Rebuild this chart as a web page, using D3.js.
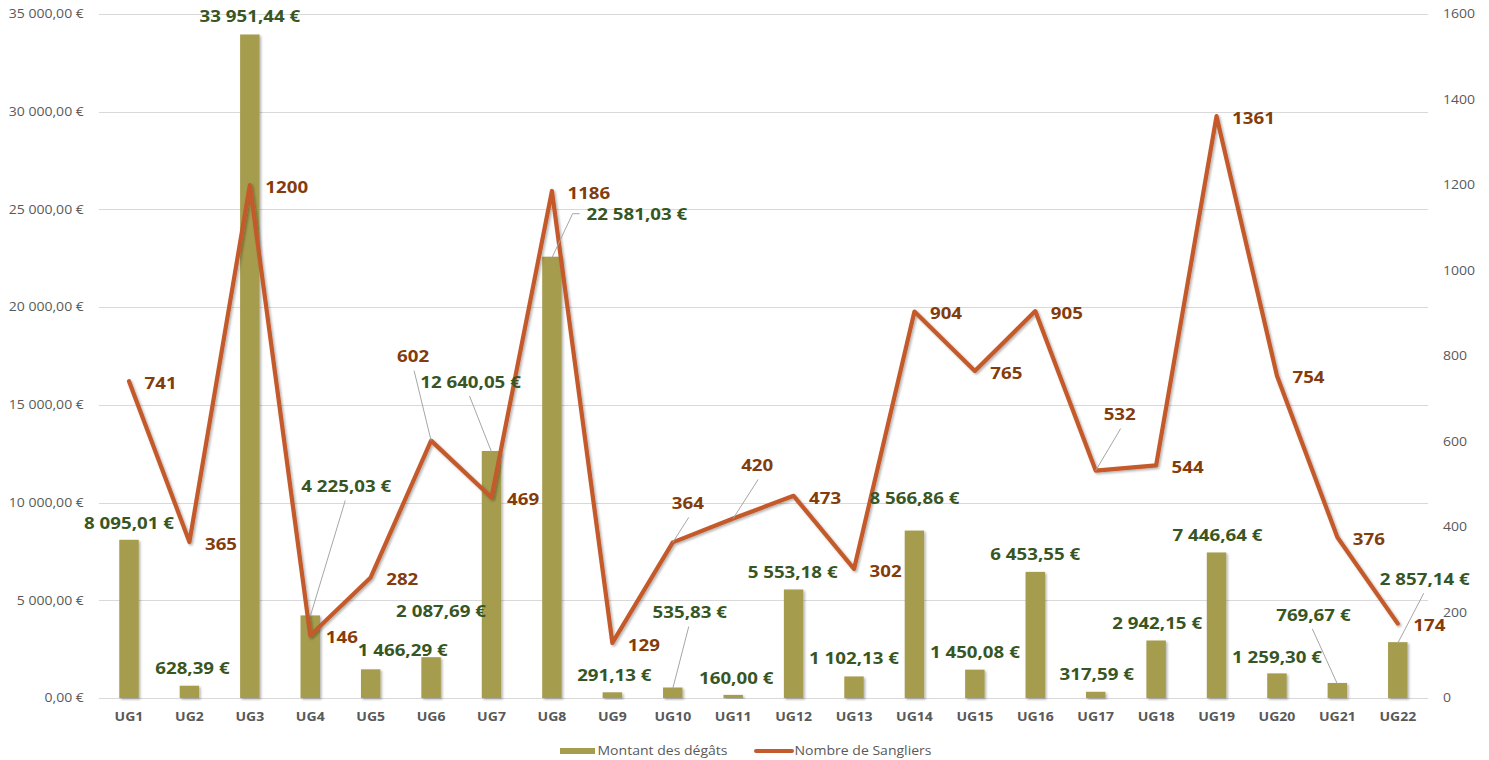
<!DOCTYPE html>
<html>
<head>
<meta charset="utf-8">
<script src="https://cdn.jsdelivr.net/npm/d3@7"></script>
<style>
  html, body { margin: 0; padding: 0; background: #fff; }
  svg { display: block; font-family: "Open Sans", sans-serif; }
</style>
</head>
<body>
<svg id="chart" width="1489" height="760"></svg>
<script>
// ---------- data ----------
const categories = ["UG1","UG2","UG3","UG4","UG5","UG6","UG7","UG8","UG9","UG10","UG11",
                    "UG12","UG13","UG14","UG15","UG16","UG17","UG18","UG19","UG20","UG21","UG22"];
const damages = [8095.01, 628.39, 33951.44, 4225.03, 1466.29, 2087.69, 12640.05, 22581.03,
                 291.13, 535.83, 160.00, 5553.18, 1102.13, 8566.86, 1450.08, 6453.55,
                 317.59, 2942.15, 7446.64, 1259.30, 769.67, 2857.14];
const boars = [741, 365, 1200, 146, 282, 602, 469, 1186, 129, 364, 420, 473, 302, 904,
               765, 905, 532, 544, 1361, 754, 376, 174];
const leftTicks = [0, 5000, 10000, 15000, 20000, 25000, 30000, 35000];
const rightTicks = [0, 200, 400, 600, 800, 1000, 1200, 1400, 1600];
const seriesNames = ["Montant des dégâts", "Nombre de Sangliers"];

// ---------- label layout (offsets, not data) ----------
// bar labels: centre offset from (bar centre, bar top); leader: true draws a leader line
const barLabelLayout = [
  [0,-17],[3,-17],[0,-18],[36,-129,"l"],[32,-19],[10,-46],[-21,-69,"l"],[85,-42,"h"],
  [2,-17],[17,-75,"l"],[3,-17],[-1,-17.5],[0,-18.5],[0,-32],[0,-17],[0,-18],
  [1,-18],[1,-17.5],[1,-17.5],[0,-16.5],[-24,-68,"l"],[27,-63,"l"]
];
// line labels: null = default (right of point); otherwise centre offset + leader
const lineLabelLayout = [
  null,null,null,null,null,[-18,-84],null,null,null,[15,-39],[24,-53],
  null,null,null,null,null,[24,-56],null,null,null,null,null
];

// ---------- setup ----------
const SX = 1.17;
const svg = d3.select("#chart");
const plot = { left: 98.8, right: 1428, top: 14, bottom: 698 };

const locale = d3.formatLocale({ decimal: ",", thousands: " ", grouping: [3], currency: ["", " €"] });
const fmtEuro = v => locale.format(",.2f")(v) + " €";

const x = d3.scaleBand().domain(categories).range([plot.left, plot.right]).padding(0);
const yL = d3.scaleLinear().domain([0, 35000]).range([plot.bottom, plot.top]);
const yR = d3.scaleLinear().domain([0, 1600]).range([plot.bottom, plot.top]);
const cx = c => x(c) + x.bandwidth() / 2;
const barW = x.bandwidth() * 0.322;

const defs = svg.append("defs");
const f = defs.append("filter").attr("id", "shadow").attr("x", "-20%").attr("y", "-20%")
  .attr("width", "140%").attr("height", "140%");
f.append("feDropShadow").attr("dx", 1.5).attr("dy", 1.5).attr("stdDeviation", 1.2)
  .attr("flood-color", "#000").attr("flood-opacity", 0.3);

function sText(g, px, py, txt) {
  return g.append("text")
    .attr("transform", `translate(${px},${py}) scale(${SX},1)`)
    .attr("dy", "0.36em")
    .text(txt);
}

// gridlines
svg.append("g").selectAll("line").data(leftTicks).join("line")
  .attr("x1", plot.left).attr("x2", plot.right)
  .attr("y1", d => Math.round(yL(d)) + 0.5).attr("y2", d => Math.round(yL(d)) + 0.5)
  .attr("stroke", "#D9D9D9").attr("stroke-width", 1);

// left axis
const axL = svg.append("g").attr("transform", `translate(${plot.left},0)`)
  .call(d3.axisLeft(yL).tickValues(leftTicks).tickSize(0).tickPadding(12.8).tickFormat(fmtEuro));
axL.select(".domain").remove();
axL.selectAll("text").attr("font-size", 12).attr("fill", "#595959")
  .attr("font-family", "Open Sans").attr("transform", `scale(${SX},1)`);

// right axis
const axR = svg.append("g").attr("transform", `translate(${plot.right},0)`)
  .call(d3.axisRight(yR).tickValues(rightTicks).tickSize(0).tickPadding(12.8).tickFormat(d3.format("d")));
axR.select(".domain").remove();
axR.selectAll("text").attr("font-size", 12).attr("fill", "#595959")
  .attr("font-family", "Open Sans").attr("transform", `scale(${SX},1)`);

// bottom axis
const axB = svg.append("g").attr("transform", `translate(0,${plot.bottom})`)
  .call(d3.axisBottom(x).tickSize(0).tickPadding(14));
axB.select(".domain").remove();
axB.selectAll("text").attr("font-size", 12).attr("font-weight", 700).attr("fill", "#595959")
  .attr("font-family", "Open Sans").attr("transform", `scale(${SX},1)`);

// bars
svg.append("g").selectAll("rect").data(damages).join("rect")
  .attr("x", (d, i) => cx(categories[i]) - barW / 2)
  .attr("width", barW)
  .attr("y", d => yL(d))
  .attr("height", d => plot.bottom - yL(d))
  .attr("fill", "#A59C4D")
  .attr("filter", "url(#shadow)");

// line
const lineGen = d3.line().x((d, i) => cx(categories[i])).y(d => yR(d));
svg.append("path").datum(boars)
  .attr("d", lineGen)
  .attr("fill", "none").attr("stroke", "#C45A2C").attr("stroke-width", 4.2)
  .attr("stroke-linejoin", "round").attr("stroke-linecap", "round")
  .attr("filter", "url(#shadow)");

// leader lines + labels
const leaders = svg.append("g").attr("stroke", "#A6A6A6").attr("stroke-width", 1).attr("fill", "none");
const labels = svg.append("g").attr("font-size", 16).attr("font-weight", 700);

damages.forEach((v, i) => {
  const ax = cx(categories[i]), ay = yL(v);
  const [dx, dy, mode] = barLabelLayout[i];
  const lx = ax + dx, ly = ay + dy;
  const t = sText(labels, lx, ly, fmtEuro(v)).attr("text-anchor", "middle").attr("fill", "#375623");
  if (mode === "l") {
    leaders.append("line").attr("x1", lx - 1).attr("y1", ly + 14).attr("x2", ax).attr("y2", ay + 1);
  } else if (mode === "h") {
    const w = t.node().getComputedTextLength() * SX;
    const left = lx - w / 2;
    leaders.append("polyline").attr("points",
      `${left - 7},${ly - 1} ${left - 14},${ly - 1} ${ax},${ay + 1}`);
  }
});

boars.forEach((v, i) => {
  const px = cx(categories[i]), py = yR(v);
  const lay = lineLabelLayout[i];
  if (!lay) {
    sText(labels, px + 15.5, py + 2, String(v)).attr("text-anchor", "start").attr("fill", "#843C0C");
  } else {
    const lx = px + lay[0], ly = py + lay[1];
    sText(labels, lx, ly, String(v)).attr("text-anchor", "middle").attr("fill", "#843C0C");
    leaders.append("line").attr("x1", lx + 1).attr("y1", ly + 14).attr("x2", px).attr("y2", py);
  }
});

// legend
const lg = svg.append("g").attr("font-size", 12).attr("fill", "#595959");
lg.append("rect").attr("x", 560).attr("y", 748).attr("width", 35).attr("height", 6).attr("fill", "#A59C4D");
sText(lg, 597.5, 751, seriesNames[0]).attr("text-anchor", "start");
lg.append("line").attr("x1", 756).attr("x2", 792).attr("y1", 751).attr("y2", 751)
  .attr("stroke", "#C45A2C").attr("stroke-width", 4).attr("stroke-linecap", "round");
sText(lg, 794.5, 751, seriesNames[1]).attr("text-anchor", "start");
</script>
</body>
</html>
